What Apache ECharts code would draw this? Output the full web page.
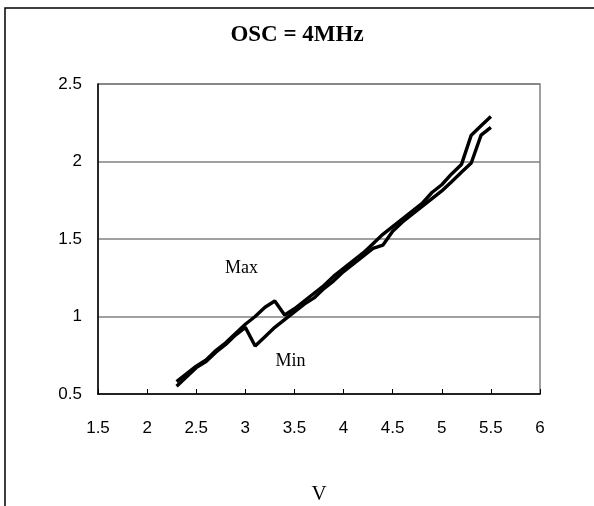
<!DOCTYPE html>
<html>
<head>
<meta charset="utf-8">
<script src="https://cdn.jsdelivr.net/npm/echarts@6/dist/echarts.min.js"></script>
<style>
html,body{margin:0;padding:0;background:#fff;}
#chart{width:594px;height:506px;}
</style>
</head>
<body>
<div id="chart"></div>
<script>
// 电压 V
var volts = [2.3,2.4,2.5,2.6,2.7,2.8,2.9,3.0,3.1,3.2,3.3,3.4,3.5,3.6,3.7,3.8,3.9,4.0,4.1,4.2,4.3,4.4,4.5,4.6,4.7,4.8,4.9,5.0,5.1,5.2,5.3,5.4,5.5];
var maxVals = [0.58,0.63,0.68,0.72,0.78,0.83,0.89,0.95,1.00,1.06,1.10,1.01,1.05,1.10,1.15,1.20,1.26,1.31,1.36,1.41,1.47,1.53,1.58,1.63,1.68,1.73,1.80,1.85,1.92,1.98,2.17,2.23,2.29];
var minVals = [0.55,0.61,0.67,0.71,0.77,0.82,0.88,0.93,0.81,0.87,0.93,0.98,1.03,1.08,1.12,1.18,1.23,1.29,1.34,1.39,1.44,1.46,1.55,1.61,1.66,1.71,1.76,1.81,1.87,1.93,1.99,2.17,2.22];
var xTicks = [1.5,6,0.5]; // min, max, interval
var yTicks = [0.5,2.5,0.5];
var labelMax = [2.96,1.31], labelMin = [3.46,0.71];

function pairs(xs, ys){
	var out = [];
	for(var i=0;i<xs.length;i++){
		out.push([xs[i], ys[i]]);
	}
	return out;
}

var serif = '"Liberation Serif","Times New Roman",serif';
var sans = '"Liberation Sans",Arial,sans-serif';

function tag(pos, text){
	return {
		symbol:'circle',symbolSize:1,
		itemStyle:{color:'rgba(0,0,0,0)'},
		data:[{coord:pos,value:text}],
		label:{show:true,position:'inside',formatter:text,fontFamily:serif,fontSize:18,color:'#000'}
	};
}

var myChart = echarts.init(document.getElementById('chart'));
var option = {
	animation:false,
	backgroundColor:'#fff',
	title:{
		text:'OSC = 4MHz',
		left:'center',
		top:19,
		textStyle:{fontFamily:serif,fontWeight:'bold',fontSize:23,color:'#000'}
	},
	graphic:[{
		type:'rect',
		shape:{x:5,y:8,width:700,height:700},
		style:{fill:null,stroke:'#000',lineWidth:1.5},
		silent:true
	}],
	grid:{left:98,right:54,top:84,bottom:112,outerBoundsMode:'none',show:true,borderColor:'#808080',borderWidth:1.5,backgroundColor:'#fff'},
	xAxis:{
		type:'value',
		min:xTicks[0],max:xTicks[1],interval:xTicks[2],
		name:'V',nameLocation:'middle',nameGap:90,
		nameTextStyle:{fontFamily:serif,fontSize:21,color:'#000'},
		axisLine:{onZero:false,lineStyle:{color:'#000',width:1.5}},
		axisTick:{show:true,inside:true,length:5,lineStyle:{color:'#000'}},
		axisLabel:{fontFamily:sans,fontSize:17,color:'#000',margin:26},
		splitLine:{show:false}
	},
	yAxis:{
		type:'value',
		min:yTicks[0],max:yTicks[1],interval:yTicks[2],
		axisLine:{show:true,onZero:false,lineStyle:{color:'#000',width:1.5}},
		axisTick:{show:false},
		axisLabel:{fontFamily:sans,fontSize:17,color:'#000',margin:16,
			formatter:function(v){return String(v);}},
		splitLine:{show:true,lineStyle:{color:'#808080',width:1.5}}
	},
	series:[{
		name:'Max',type:'line',data:pairs(volts,maxVals),
		symbol:'none',lineStyle:{color:'#000',width:3.4},
		markPoint:tag(labelMax,'Max')
	},{
		name:'Min',type:'line',data:pairs(volts,minVals),
		symbol:'none',lineStyle:{color:'#000',width:3.4},
		markPoint:tag(labelMin,'Min')
	}]
};
myChart.setOption(option);
</script>
</body>
</html>
